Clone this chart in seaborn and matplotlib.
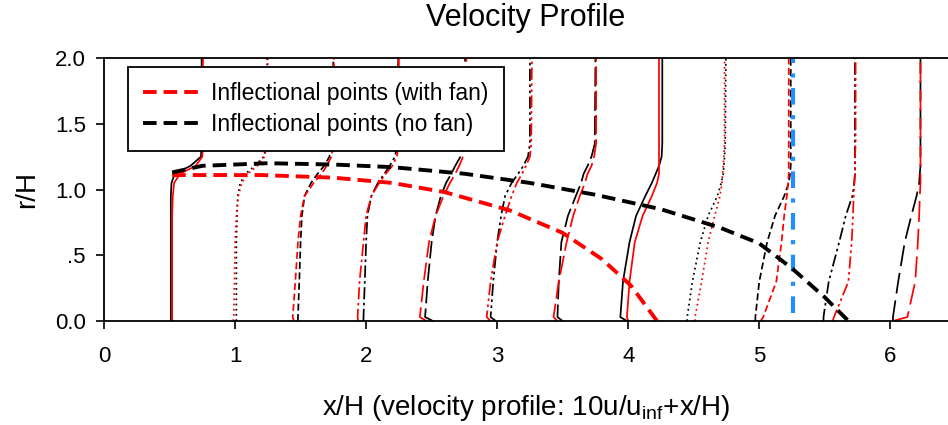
import numpy as np
import pandas as pd
import matplotlib
matplotlib.use("Agg")
import matplotlib.pyplot as plt
import seaborn as sns

# ---------------- data ----------------
r_grid = [0.0, 0.03, 0.3, 0.6, 0.8, 0.95, 1.05, 1.12, 1.18, 1.25, 1.35, 2.0]
stations = [0.5, 1.0, 1.5, 2.0, 2.5, 3.0, 3.5, 4.0, 4.5, 5.0, 5.5, 6.0]

# x positions (10u/uinf + x/H) of each profile at r_grid, no fan (black)
nofan_profiles = [
    [0.51, 0.51, 0.51, 0.51, 0.51, 0.51, 0.515, 0.54, 0.66, 0.74, 0.745, 0.745],
    [1.01, 1.01, 1.01, 1.01, 1.015, 1.02, 1.04, 1.08, 1.15, 1.22, 1.24, 1.245],
    [1.48, 1.48, 1.49, 1.50, 1.51, 1.53, 1.58, 1.63, 1.68, 1.72, 1.745, 1.75],
    [1.98, 1.98, 1.99, 2.00, 2.01, 2.04, 2.09, 2.14, 2.18, 2.22, 2.24, 2.245],
    [2.51, 2.45, 2.47, 2.50, 2.53, 2.57, 2.61, 2.65, 2.68, 2.72, 2.75, 2.755],
    [2.99, 2.95, 2.97, 3.00, 3.03, 3.06, 3.11, 3.16, 3.20, 3.235, 3.25, 3.25],
    [3.50, 3.46, 3.47, 3.49, 3.54, 3.60, 3.64, 3.66, 3.69, 3.72, 3.745, 3.75],
    [3.99, 3.94, 3.96, 4.01, 4.06, 4.13, 4.18, 4.21, 4.235, 4.255, 4.26, 4.26],
    [4.45, 4.45, 4.49, 4.55, 4.61, 4.68, 4.71, 4.725, 4.73, 4.735, 4.74, 4.745],
    [4.97, 4.97, 5.00, 5.06, 5.12, 5.19, 5.225, 5.235, 5.24, 5.24, 5.24, 5.24],
    [5.49, 5.49, 5.53, 5.61, 5.66, 5.71, 5.725, 5.73, 5.73, 5.73, 5.73, 5.73],
    [6.02, 6.02, 6.06, 6.11, 6.16, 6.20, 6.22, 6.225, 6.23, 6.23, 6.23, 6.23],
]
# with fan (red)
fan_profiles = [
    [0.52, 0.52, 0.52, 0.52, 0.52, 0.525, 0.535, 0.58, 0.70, 0.75, 0.755, 0.755],
    [0.985, 0.99, 0.995, 1.00, 1.01, 1.025, 1.05, 1.10, 1.17, 1.225, 1.245, 1.25],
    [1.45, 1.44, 1.46, 1.48, 1.50, 1.53, 1.60, 1.66, 1.70, 1.735, 1.75, 1.755],
    [1.94, 1.935, 1.95, 1.98, 2.00, 2.04, 2.10, 2.15, 2.20, 2.235, 2.25, 2.25],
    [2.46, 2.41, 2.44, 2.48, 2.53, 2.59, 2.64, 2.68, 2.71, 2.74, 2.76, 2.765],
    [2.95, 2.92, 2.95, 3.00, 3.06, 3.11, 3.15, 3.19, 3.22, 3.25, 3.26, 3.265],
    [3.46, 3.43, 3.47, 3.53, 3.58, 3.63, 3.67, 3.69, 3.72, 3.74, 3.755, 3.755],
    [4.00, 3.99, 4.01, 4.05, 4.11, 4.18, 4.22, 4.235, 4.235, 4.235, 4.235, 4.235],
    [4.51, 4.51, 4.56, 4.61, 4.66, 4.70, 4.715, 4.72, 4.725, 4.73, 4.735, 4.735],
    [5.01, 5.03, 5.13, 5.17, 5.19, 5.21, 5.22, 5.225, 5.225, 5.225, 5.225, 5.225],
    [5.56, 5.57, 5.68, 5.705, 5.715, 5.72, 5.725, 5.73, 5.73, 5.73, 5.735, 5.735],
    [6.02, 6.13, 6.19, 6.21, 6.22, 6.225, 6.23, 6.23, 6.23, 6.23, 6.23, 6.23],
]

# inflection point curves
infl_fan_x = [0.52, 0.8, 1.2, 1.75, 2.2, 2.6, 3.1, 3.5, 3.8, 4.02, 4.22]
infl_fan_r = [1.11, 1.11, 1.11, 1.09, 1.05, 0.98, 0.84, 0.67, 0.47, 0.27, 0.0]
infl_nofan_x = [0.52, 0.75, 1.25, 1.75, 2.2, 2.75, 3.25, 3.75, 4.25, 4.7, 5.0, 5.25, 5.5, 5.68]
infl_nofan_r = [1.13, 1.18, 1.20, 1.19, 1.17, 1.12, 1.05, 0.96, 0.85, 0.71, 0.59, 0.40, 0.18, 0.0]

# blue reference line
ref_x = [5.26, 5.26]
ref_r = [0.06, 2.0]

x_ticks = [0, 1, 2, 3, 4, 5, 6]
y_ticks = [0.0, 0.5, 1.0, 1.5, 2.0]
y_ticklabels = ["0.0", ".5", "1.0", "1.5", "2.0"]

# ---------------- style ----------------
sns.set_theme(style="ticks")
plt.rcParams['font.family'] = ['Liberation Sans', 'DejaVu Sans']
plt.rcParams['text.color'] = 'black'
plt.rcParams['axes.labelcolor'] = 'black'
plt.rcParams['xtick.color'] = 'black'
plt.rcParams['ytick.color'] = 'black'

styles = [
    '-', (0, (1, 2)), (0, (4, 2)), (0, (7, 2, 1.5, 2)), (0, (10, 3)),
    (0, (7, 2, 1.5, 2, 1.5, 2)), (0, (11, 3)),
    '-', (0, (1, 2)), (0, (4, 2)), (0, (7, 2, 1.5, 2, 1.5, 2)), (0, (12, 4)),
]

fig = plt.figure(figsize=(9.48, 4.25), dpi=100)
ax = fig.add_axes([0.1097, 0.2447, 0.8903, 0.6188])

for i, x0 in enumerate(stations):
    df_b = pd.DataFrame({"x": nofan_profiles[i], "r": r_grid})
    df_r = pd.DataFrame({"x": fan_profiles[i], "r": r_grid})
    sns.lineplot(data=df_b, x="x", y="r", sort=False, estimator=None, ax=ax,
                 color="black", linewidth=1.25, linestyle=styles[i])
    sns.lineplot(data=df_r, x="x", y="r", sort=False, estimator=None, ax=ax,
                 color="red", linewidth=1.25, linestyle=styles[i])

sns.lineplot(x=ref_x, y=ref_r, sort=False, estimator=None, ax=ax,
             color="#1f8fff", linewidth=3, linestyle=(0, (4, 2.5, 1, 2.5)))

sns.lineplot(x=infl_fan_x, y=infl_fan_r, sort=False, estimator=None, ax=ax,
             color="red", linewidth=2.8, linestyle=(0, (3.5, 1.8)),
             label="Inflectional points (with fan)")
sns.lineplot(x=infl_nofan_x, y=infl_nofan_r, sort=False, estimator=None, ax=ax,
             color="black", linewidth=2.8, linestyle=(0, (3.5, 1.8)),
             label="Inflectional points (no fan)")

ax.set_xlim(0, 6.44)
ax.set_ylim(0, 2.0)
ax.set_xticks(x_ticks)
ax.set_xticklabels([str(t) for t in x_ticks])
ax.set_yticks(y_ticks)
ax.set_yticklabels(y_ticklabels)
ax.tick_params(axis='both', direction='out', length=6, width=1.2, labelsize=16,
               colors='black')
ax.tick_params(axis='x', pad=12)
ax.tick_params(axis='y', pad=7)
for s in ['left', 'bottom', 'top']:
    ax.spines[s].set_visible(True)
    ax.spines[s].set_linewidth(1.3)
    ax.spines[s].set_color('black')
ax.spines['right'].set_visible(False)

ax.set_xlabel(r"x/H (velocity profile: 10u/u$_{\mathregular{inf}}$+x/H)", fontsize=20,
              labelpad=19, color='black')
ax.set_ylabel("r/H", fontsize=20, labelpad=11, color='black')
ax.set_title("Velocity Profile", fontsize=22, pad=23, color='black')

leg = ax.legend(loc='upper left', bbox_to_anchor=(0.028, 0.966), borderaxespad=0,
                fontsize=16.5, frameon=True, fancybox=False, edgecolor='black',
                framealpha=1, handlelength=2.4, borderpad=0.65, labelspacing=0.35,
                handletextpad=0.6)
leg.get_frame().set_linewidth(1.3)
for t in leg.get_texts():
    t.set_color('black')

fig.savefig("out.png", dpi=100)
